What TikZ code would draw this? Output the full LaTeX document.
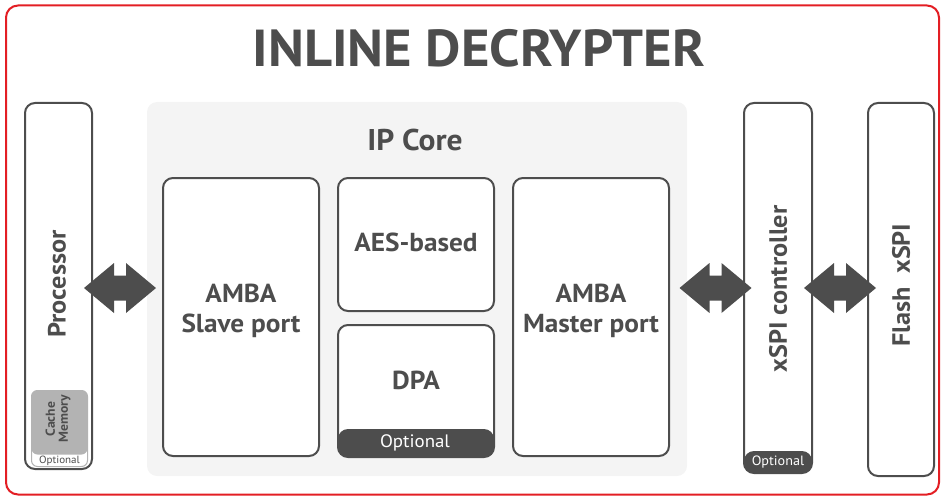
\documentclass[tikz,border=0pt]{standalone}
\usepackage{fontspec}
\setmainfont[FakeStretch=1.05]{PT Sans}
\usetikzlibrary{calc}
\definecolor{dk}{HTML}{4D4D4D}
\definecolor{redb}{HTML}{E31E24}
\definecolor{ipbg}{HTML}{F4F4F4}
\definecolor{cachegray}{HTML}{B3B3B3}
\tikzset{
  box/.style={draw=dk, line width=2pt, rounded corners=10pt, fill=white, inner sep=0pt},
  lbl/.style={text=dk, font=\bfseries\fontsize{26}{30}\selectfont, align=center, inner sep=0pt},
  vlbl/.style={text=dk, font=\bfseries\fontsize{25}{28}\selectfont, rotate=90, inner sep=0pt},
  optstrip/.style={path picture={\fill[dk] (path picture bounding box.south west) rectangle ([yshift=#1]path picture bounding box.south east);}},
  dblarrow/.pic={\fill[dk] (-36,0) -- (-6,-25) -- (-6,-12.5) -- (6,-12.5) -- (6,-25) -- (36,0) -- (6,25) -- (6,12.5) -- (-6,12.5) -- (-6,25) -- cycle;}
}
\begin{document}
\begin{tikzpicture}[x=1pt,y=-1pt]
\useasboundingbox (0,0) rectangle (944,500);
% outer frame
\node[draw=redb, line width=2pt, rounded corners=12pt, minimum width=933pt, minimum height=489pt, inner sep=0pt] (frame) at (472.5,250) {};
\node[text=dk, font=\bfseries\fontsize{52}{60}\selectfont, inner sep=0pt] (title) at (479,48) {INLINE DECRYPTER};
% IP core background
\node[fill=ipbg, rounded corners=10pt, minimum width=540pt, minimum height=374pt, inner sep=0pt] (ip) at (417,289) {};
\node[text=dk, font=\bfseries\fontsize{30}{34}\selectfont, inner sep=0pt] (iptitle) at (415,140) {IP Core};
% processor
\node[box, minimum width=67pt, minimum height=366pt] (proc) at (58.5,286) {};
\node[vlbl] (proctxt) at (57,284) {Processor};
\node[draw=cachegray, line width=1pt, fill=white, rounded corners=6pt, minimum width=56pt, minimum height=76pt, inner sep=0pt,
  path picture={\fill[cachegray] (path picture bounding box.north west) rectangle ([yshift=12pt]path picture bounding box.south east);}] (cache) at (59.5,428.5) {};
\node[text=dk, font=\bfseries\fontsize{13}{13}\selectfont, rotate=90, align=center, inner sep=0pt] (cachetxt) at (58,419) {Cache\\Memory};
\node[text=dk, font=\fontsize{10.5}{12}\selectfont, inner sep=0pt] (cacheopt) at (59.5,461) {Optional};
% IP core blocks
\node[box, minimum width=156pt, minimum height=278pt] (slave) at (241,317) {};
\node[lbl] (slavetxt) at (241,311) {AMBA\\Slave port};
\node[box, minimum width=156pt, minimum height=133pt] (aes) at (416,244.5) {};
\node[lbl] (aestxt) at (416,242) {AES-based};
\node[box, minimum width=156pt, minimum height=132pt, optstrip=28pt] (dpa) at (416,391) {};
\node[lbl] (dpatxt) at (416,380) {DPA};
\node[text=white, font=\fontsize{18}{20}\selectfont, inner sep=0pt] (dpaopt) at (415,443) {Optional};
\node[box, minimum width=156pt, minimum height=278pt] (master) at (591,317) {};
\node[lbl] (mastertxt) at (591,311) {AMBA\\Master port};
% xSPI controller
\node[box, minimum width=68pt, minimum height=370pt, optstrip=22pt] (xspi) at (778,288) {};
\node[vlbl] (xspitxt) at (778,289) {xSPI controller};
\node[text=white, font=\fontsize{13.5}{15}\selectfont, inner sep=0pt] (xspiopt) at (778,462) {Optional};
% Flash
\node[box, minimum width=66pt, minimum height=373pt] (flash) at (901,289.5) {};
\node[vlbl] (flashtxt) at (901,285) {Flash\ \ xSPI};
% arrows
\pic at ($(proc.east)!0.5!(slave.west)+(-7.5,-13.5)$) {dblarrow};
\pic at ($(master.east)!0.5!(xspi.west)+(9,-14.5)$) {dblarrow};
\pic at ($(xspi.east)!0.5!(flash.west)+(0,-0.75)$) {dblarrow};
\end{tikzpicture}
\end{document}
